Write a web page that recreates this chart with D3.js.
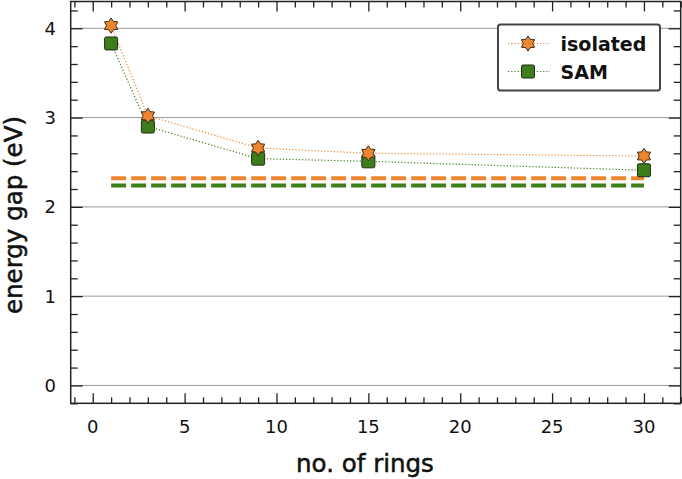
<!DOCTYPE html>
<html>
<head>
<meta charset="utf-8">
<script src="https://cdnjs.cloudflare.com/ajax/libs/d3/7.8.5/d3.min.js"></script>
<style>
  body { margin: 0; background: #fff; }
  svg { display: block; font-family: "DejaVu Sans", sans-serif; }
</style>
</head>
<body>
<div id="chart"></div>
<script>
// data
let rings = [1, 3, 9, 15, 30];
let isolated = [4.03, 3.02, 2.66, 2.60, 2.57];
let sam = [3.83, 2.90, 2.54, 2.51, 2.41];
let limitRange = [1, 30];
let isolatedLimit = 2.32;
let samLimit = 2.24;
let xTicks = [0, 5, 10, 15, 20, 25, 30];
let yTicks = [0, 1, 2, 3, 4];

let width = 682, height = 479;
let margin = {top: 1.5, right: 1.3, bottom: 75.7, left: 70.7};
let color_orange = "#ee8630";
let color_green = "#3d7d1c";

let svg = d3.select("#chart")
            .append("svg")
            .attr("width", width)
            .attr("height", height);

let x = d3.scaleLinear()
          .domain([-1.2, 32])
          .range([margin.left, width - margin.right]);

let y = d3.scaleLinear()
          .domain([-0.2, 4.3])
          .range([height - margin.bottom, margin.top]);

// gridlines
svg.append("g")
   .selectAll("line")
   .data(yTicks)
   .enter()
   .append("line")
   .attr("x1", x.range()[0])
   .attr("x2", x.range()[1])
   .attr("y1", d => y(d))
   .attr("y2", d => y(d))
   .attr("stroke", "#9a9a9a")
   .attr("stroke-width", 1);

// axes with inward ticks, all four sides
let yMinor = d3.range(-0.2, 4.31, 0.2).map(v => +v.toFixed(1)).filter(v => !yTicks.includes(v));
let xMinor = d3.range(-1, 33, 1).filter(v => !xTicks.includes(v));

function styleAxis(g) {
  g.selectAll(".domain").remove();
  g.selectAll(".tick line").attr("stroke", "#222").attr("stroke-width", 1.3);
}

svg.append("g")
   .attr("transform", "translate(" + margin.left + ",0)")
   .call(d3.axisRight(y).tickValues(yTicks).tickSize(12).tickFormat(""))
   .call(styleAxis);
svg.append("g")
   .attr("transform", "translate(" + margin.left + ",0)")
   .call(d3.axisRight(y).tickValues(yMinor).tickSize(7).tickFormat(""))
   .call(styleAxis);
svg.append("g")
   .attr("transform", "translate(" + (width - margin.right) + ",0)")
   .call(d3.axisLeft(y).tickValues(yTicks).tickSize(12).tickFormat(""))
   .call(styleAxis);
svg.append("g")
   .attr("transform", "translate(" + (width - margin.right) + ",0)")
   .call(d3.axisLeft(y).tickValues(yMinor).tickSize(7).tickFormat(""))
   .call(styleAxis);

svg.append("g")
   .attr("transform", "translate(0," + (height - margin.bottom) + ")")
   .call(d3.axisTop(x).tickValues(xTicks).tickSize(10).tickFormat(""))
   .call(styleAxis);
svg.append("g")
   .attr("transform", "translate(0," + (height - margin.bottom) + ")")
   .call(d3.axisTop(x).tickValues(xMinor).tickSize(6).tickFormat(""))
   .call(styleAxis);
svg.append("g")
   .attr("transform", "translate(0," + margin.top + ")")
   .call(d3.axisBottom(x).tickValues(xTicks).tickSize(10).tickFormat(""))
   .call(styleAxis);
svg.append("g")
   .attr("transform", "translate(0," + margin.top + ")")
   .call(d3.axisBottom(x).tickValues(xMinor).tickSize(6).tickFormat(""))
   .call(styleAxis);

// tick labels
svg.append("g")
   .selectAll("text")
   .data(xTicks)
   .enter()
   .append("text")
   .attr("x", d => x(d))
   .attr("y", 433)
   .attr("text-anchor", "middle")
   .style("font-size", "18px")
   .attr("fill", "#111")
   .text(d => d);

svg.append("g")
   .selectAll("text")
   .data(yTicks)
   .enter()
   .append("text")
   .attr("x", 56)
   .attr("y", d => y(d))
   .attr("dy", "0.36em")
   .attr("text-anchor", "end")
   .style("font-size", "18px")
   .attr("fill", "#111")
   .text(d => d);

// frame
svg.append("rect")
   .attr("x", margin.left)
   .attr("y", margin.top)
   .attr("width", width - margin.left - margin.right)
   .attr("height", height - margin.top - margin.bottom)
   .attr("fill", "none")
   .attr("stroke", "#222")
   .attr("stroke-width", 1.5);

// axis titles
svg.append("text")
   .attr("x", 365)
   .attr("y", 472)
   .attr("text-anchor", "middle")
   .style("font-size", "24.5px")
   .attr("fill", "#111")
   .attr("stroke", "#111")
   .attr("stroke-width", 0.5)
   .text("no. of rings");

svg.append("text")
   .attr("transform", "translate(22,215) rotate(-90)")
   .attr("text-anchor", "middle")
   .style("font-size", "24.5px")
   .attr("fill", "#111")
   .attr("stroke", "#111")
   .attr("stroke-width", 0.5)
   .text("energy gap (eV)");

// dashed reference levels
let limits = [
  {value: isolatedLimit, color: color_orange},
  {value: samLimit, color: color_green}
];
svg.append("g")
   .selectAll("line")
   .data(limits)
   .enter()
   .append("line")
   .attr("x1", x(limitRange[0]))
   .attr("x2", x(limitRange[1]))
   .attr("y1", d => y(d.value))
   .attr("y2", d => y(d.value))
   .attr("stroke", d => d.color)
   .attr("stroke-width", 4)
   .attr("stroke-dasharray", "15,5");

// series
let series = [
  {name: "isolated", values: isolated, color: color_orange, shape: "star"},
  {name: "SAM", values: sam, color: color_green, shape: "square"}
];

let line = d3.line()
             .x(d => x(d[0]))
             .y(d => y(d[1]));

let starPath = d3.symbol().type({
  draw: function(ctx, size) {
    let r = Math.sqrt(size) * 0.62, ri = r * 0.62;
    for (let i = 0; i < 12; i++) {
      let a = -Math.PI / 2 + i * Math.PI / 6;
      let rr = i % 2 === 0 ? r : ri;
      if (i === 0) ctx.moveTo(rr * Math.cos(a), rr * Math.sin(a));
      else ctx.lineTo(rr * Math.cos(a), rr * Math.sin(a));
    }
    ctx.closePath();
  }
}).size(150)();

function drawMarker(g, s) {
  if (s.shape === "star") {
    g.append("path")
     .attr("d", starPath)
     .attr("fill", s.color)
     .attr("stroke", "#3a2a1a")
     .attr("stroke-width", 1);
  } else {
    g.append("rect")
     .attr("x", -6.5)
     .attr("y", -6.5)
     .attr("width", 13)
     .attr("height", 13)
     .attr("rx", 1.5)
     .attr("fill", s.color)
     .attr("stroke", "#1f2a14")
     .attr("stroke-width", 1);
  }
}

series.forEach(s => {
  let pts = rings.map((r, i) => [r, s.values[i]]);
  svg.append("path")
     .datum(pts)
     .attr("d", line)
     .attr("fill", "none")
     .attr("stroke", s.color)
     .attr("stroke-width", 1.2)
     .attr("stroke-dasharray", "1.2,2");
});

// SAM markers first so the stars sit on top
series.slice().reverse().forEach(s => {
  svg.append("g")
     .selectAll("g")
     .data(rings.map((r, i) => [r, s.values[i]]))
     .enter()
     .append("g")
     .attr("transform", d => "translate(" + x(d[0]) + "," + y(d[1]) + ")")
     .each(function() { drawMarker(d3.select(this), s); });
});

// legend
let legend = svg.append("g")
                .attr("transform", "translate(498,24.5)");
legend.append("rect")
      .attr("width", 162)
      .attr("height", 66)
      .attr("rx", 2.5)
      .attr("fill", "#fff")
      .attr("stroke", "#444")
      .attr("stroke-width", 2);

let item = legend.selectAll(".item")
                 .data(series)
                 .enter()
                 .append("g")
                 .attr("class", "item")
                 .attr("transform", (d, i) => "translate(0," + (19 + i * 28) + ")");

item.append("line")
    .attr("x1", 10)
    .attr("x2", 52)
    .attr("stroke", d => d.color)
    .attr("stroke-width", 1.2)
    .attr("stroke-dasharray", "1.2,2");

item.append("g")
    .attr("transform", "translate(30,0)")
    .each(function(d) { drawMarker(d3.select(this), d); });

item.append("text")
    .attr("x", 62.5)
    .attr("y", 7)
    .style("font-size", "19px")
    .style("font-weight", "bold")
    .attr("fill", "#111")
    .text(d => d.name);
</script>
</body>
</html>
